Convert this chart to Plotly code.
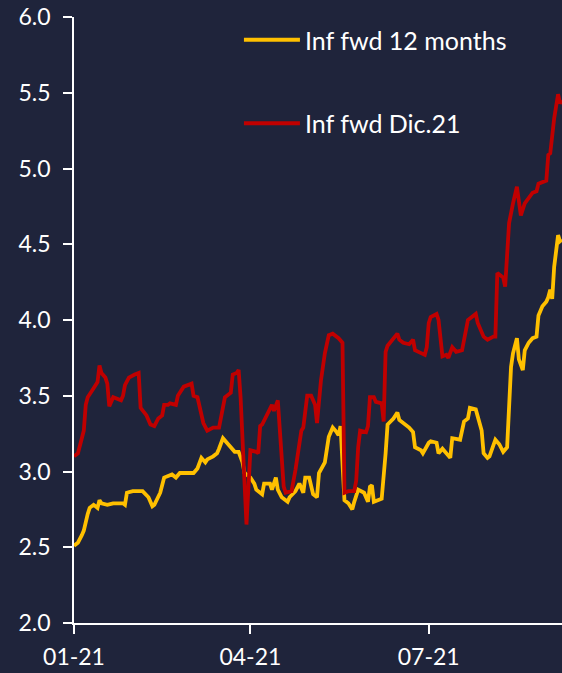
import plotly.graph_objects as go

# Inf fwd Dic.21 (red)
red_dates = ["2021-01-01","2021-01-03","2021-01-05","2021-01-06","2021-01-07","2021-01-08","2021-01-11","2021-01-13","2021-01-14","2021-01-15",
             "2021-01-17","2021-01-18","2021-01-19","2021-01-21","2021-01-25","2021-01-26","2021-01-27","2021-01-29","2021-02-01","2021-02-03",
             "2021-02-04","2021-02-07","2021-02-09","2021-02-11","2021-02-13","2021-02-15","2021-02-16","2021-02-18","2021-02-19","2021-02-22",
             "2021-02-23","2021-02-26","2021-03-02","2021-03-03","2021-03-05","2021-03-08","2021-03-10","2021-03-13","2021-03-16","2021-03-18",
             "2021-03-19","2021-03-22","2021-03-23","2021-03-25","2021-03-26","2021-03-27","2021-03-30","2021-04-01","2021-04-04","2021-04-05",
             "2021-04-06","2021-04-07","2021-04-09","2021-04-11","2021-04-12","2021-04-13","2021-04-15","2021-04-18","2021-04-19","2021-04-22",
             "2021-04-24","2021-04-27","2021-04-28","2021-04-30","2021-05-02","2021-05-04","2021-05-05","2021-05-07","2021-05-09","2021-05-11",
             "2021-05-13","2021-05-16","2021-05-18","2021-05-19","2021-05-21","2021-05-24","2021-05-25","2021-05-26","2021-05-27","2021-05-30",
             "2021-05-31","2021-06-01","2021-06-03","2021-06-04","2021-06-07","2021-06-08","2021-06-09","2021-06-10","2021-06-13","2021-06-15",
             "2021-06-16","2021-06-18","2021-06-21","2021-06-23","2021-06-24","2021-06-26","2021-06-29","2021-06-30","2021-07-01","2021-07-02",
             "2021-07-05","2021-07-06","2021-07-08","2021-07-10","2021-07-11","2021-07-13","2021-07-15","2021-07-18","2021-07-20","2021-07-21",
             "2021-07-25","2021-07-26","2021-07-29","2021-07-31","2021-08-03","2021-08-04","2021-08-05","2021-08-08","2021-08-09","2021-08-11",
             "2021-08-13","2021-08-15","2021-08-17","2021-08-19","2021-08-23","2021-08-25","2021-08-26","2021-08-30","2021-08-31","2021-09-01",
             "2021-09-03","2021-09-05","2021-09-06","2021-09-07"]
red_values = [3.10,3.12,3.22,3.27,3.44,3.49,3.55,3.59,3.70,3.65,
              3.62,3.58,3.43,3.49,3.47,3.50,3.57,3.62,3.64,3.65,
              3.42,3.37,3.31,3.30,3.35,3.37,3.44,3.44,3.45,3.44,
              3.50,3.56,3.58,3.50,3.49,3.32,3.27,3.29,3.29,3.43,
              3.49,3.52,3.64,3.65,3.67,3.49,2.65,3.14,3.13,3.12,
              3.30,3.31,3.36,3.42,3.44,3.40,3.47,2.90,2.86,2.87,
              3.01,3.27,3.29,3.50,3.50,3.44,3.32,3.60,3.78,3.90,
              3.91,3.88,3.85,2.86,2.87,2.87,2.94,3.16,3.27,3.26,
              3.30,3.49,3.49,3.46,3.45,3.33,3.79,3.83,3.88,3.91,
              3.87,3.85,3.84,3.87,3.80,3.79,3.77,3.82,3.98,4.02,
              4.04,4.00,3.76,3.77,3.75,3.82,3.79,3.80,3.93,4.00,
              4.04,3.98,3.89,3.87,3.89,3.89,4.31,4.28,4.22,4.64,
              4.77,4.88,4.69,4.77,4.84,4.85,4.90,4.92,5.09,5.10,
              5.33,5.49,5.43,5.45]

# Inf fwd 12 months (yellow)
yel_dates = ["2021-01-01","2021-01-03","2021-01-05","2021-01-06","2021-01-08","2021-01-09","2021-01-11","2021-01-13","2021-01-14","2021-01-15",
             "2021-01-18","2021-01-21","2021-01-26","2021-01-27","2021-01-28","2021-01-31","2021-02-03","2021-02-05","2021-02-08","2021-02-10",
             "2021-02-11","2021-02-14","2021-02-16","2021-02-18","2021-02-20","2021-02-22","2021-02-24","2021-02-28","2021-03-03","2021-03-05",
             "2021-03-07","2021-03-09","2021-03-10","2021-03-13","2021-03-15","2021-03-16","2021-03-18","2021-03-20","2021-03-23","2021-03-24",
             "2021-03-26","2021-03-28","2021-03-29","2021-04-01","2021-04-03","2021-04-04","2021-04-07","2021-04-08","2021-04-11","2021-04-12",
             "2021-04-14","2021-04-15","2021-04-17","2021-04-20","2021-04-21","2021-04-24","2021-04-26","2021-04-28","2021-04-29","2021-05-01",
             "2021-05-03","2021-05-05","2021-05-06","2021-05-08","2021-05-09","2021-05-11","2021-05-13","2021-05-15","2021-05-16","2021-05-17",
             "2021-05-19","2021-05-21","2021-05-23","2021-05-24","2021-05-26","2021-05-29","2021-05-31","2021-06-01","2021-06-02","2021-06-03",
             "2021-06-05","2021-06-07","2021-06-09","2021-06-10","2021-06-13","2021-06-15","2021-06-16","2021-06-18","2021-06-21","2021-06-23",
             "2021-06-24","2021-06-27","2021-06-28","2021-07-01","2021-07-02","2021-07-05","2021-07-06","2021-07-08","2021-07-10","2021-07-12",
             "2021-07-13","2021-07-17","2021-07-19","2021-07-21","2021-07-22","2021-07-25","2021-07-28","2021-07-29","2021-07-31","2021-08-01",
             "2021-08-04","2021-08-06","2021-08-08","2021-08-10","2021-08-12","2021-08-13","2021-08-15","2021-08-16","2021-08-18","2021-08-19",
             "2021-08-21","2021-08-23","2021-08-25","2021-08-26","2021-08-28","2021-08-30","2021-08-31","2021-09-01","2021-09-02","2021-09-03",
             "2021-09-05","2021-09-06","2021-09-07"]
yel_values = [2.51,2.53,2.58,2.61,2.72,2.76,2.78,2.76,2.81,2.79,
              2.78,2.79,2.79,2.78,2.86,2.87,2.87,2.87,2.83,2.77,
              2.78,2.86,2.96,2.97,2.98,2.96,2.99,2.99,2.99,3.02,
              3.09,3.06,3.08,3.10,3.12,3.15,3.22,3.19,3.15,3.13,
              3.13,3.06,2.99,2.96,2.92,2.88,2.85,2.92,2.92,2.88,
              2.96,2.88,2.83,2.80,2.83,2.87,2.92,2.86,2.96,2.96,
              2.85,2.83,2.99,3.03,3.06,3.23,3.29,3.26,3.24,3.30,
              2.81,2.79,2.75,2.80,2.88,2.86,2.80,2.90,2.91,2.80,
              2.81,2.82,3.12,3.31,3.35,3.39,3.34,3.32,3.29,3.26,
              3.16,3.14,3.12,3.19,3.20,3.19,3.12,3.15,3.12,3.09,
              3.22,3.21,3.33,3.35,3.42,3.41,3.27,3.12,3.09,3.10,
              3.21,3.18,3.13,3.16,3.69,3.78,3.88,3.74,3.67,3.80,
              3.85,3.88,3.89,4.03,4.09,4.12,4.15,4.20,4.14,4.35,
              4.56,4.52,4.53]

x_range = ["2021-01-01", "2021-09-07"]
y_ticks = [2.0, 2.5, 3.0, 3.5, 4.0, 4.5, 5.0, 5.5, 6.0]

BG = "#1f243b"
FONT = "Lato"

fig = go.Figure()
fig.add_trace(go.Scatter(x=yel_dates, y=yel_values, mode="lines", name="Inf fwd 12 months",
                         legendgroup="a", line=dict(color="#ffc000", width=3.8)))
fig.add_trace(go.Scatter(x=red_dates, y=red_values, mode="lines", name="Inf fwd Dic.21",
                         legendgroup="b", line=dict(color="#c00000", width=3.8)))

fig.update_layout(
    width=562, height=673,
    paper_bgcolor=BG, plot_bgcolor=BG,
    margin=dict(l=74, r=0, t=17, b=50, autoexpand=False),
    font=dict(family=FONT, color="white", size=23),
    showlegend=True,
    legend=dict(x=0.338, y=1.0, xanchor="left", yanchor="top",
                bgcolor="rgba(0,0,0,0)", font=dict(size=25, color="white"),
                tracegroupgap=48, itemwidth=56, traceorder="grouped"),
    xaxis=dict(type="date", range=x_range, tickformat="%m-%y", dtick="M3", tick0="2021-01-01",
               automargin=False,
               showgrid=False, zeroline=False, showline=True, linecolor="white", linewidth=1.5,
               ticks="outside", ticklen=9, tickcolor="white", tickwidth=1.5,
               tickfont=dict(size=23, color="white"), ticklabelstandoff=4),
    yaxis=dict(range=[2.0, 6.0], tickvals=y_ticks, tickformat=".1f", automargin=False,
               showgrid=False, zeroline=False, showline=True, linecolor="white", linewidth=1.5,
               ticks="outside", ticklen=9, tickcolor="white", tickwidth=1.5,
               tickfont=dict(size=23, color="white"), ticklabelstandoff=8),
)

page_css = ("document.body.style.margin='0';document.body.style.padding='0';"
            "document.body.style.overflow='hidden';document.body.style.background='" + BG + "';")
fig.write_html("out.html", post_script=page_css, config={"displayModeBar": False})
